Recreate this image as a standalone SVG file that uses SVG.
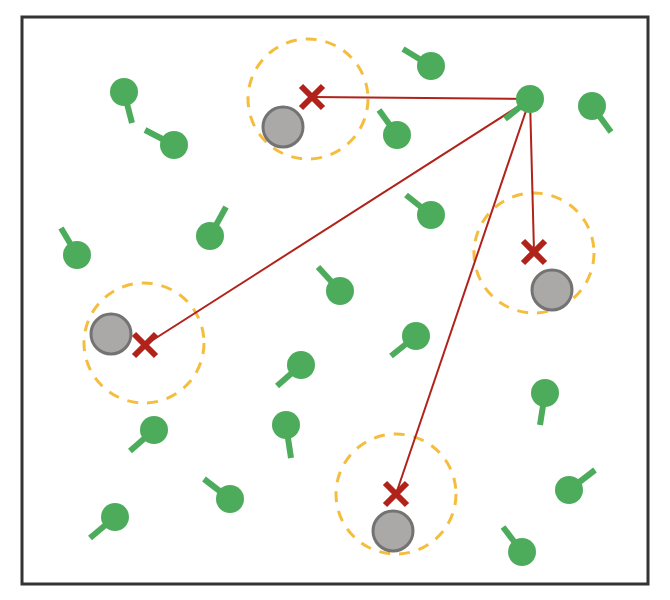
<svg xmlns="http://www.w3.org/2000/svg" width="670" height="600" viewBox="0 0 670 600">
<style>
.frame{fill:#fff;stroke:#333;stroke-width:3}
.range{fill:none;stroke:#f5bd3c;stroke-width:3;stroke-dasharray:11 9}
.obs{fill:#aaa9a8;stroke:#737373;stroke-width:3}
.cross{stroke:#b0221a;stroke-width:6;fill:none}
.link{stroke:#b0221a;stroke-width:2;fill:none}
.tail{stroke:#4dac5c;stroke-width:6}
.dot{fill:#4dac5c}
</style>
<rect class="frame" x="22" y="17" width="626" height="567"/>
<g id="zones">
<circle class="range" cx="308" cy="99" r="60"/>
<circle class="range" cx="534" cy="253" r="60"/>
<circle class="range" cx="144" cy="343" r="60"/>
<circle class="range" cx="396" cy="494" r="60"/>
</g>
<g id="obstacles">
<circle class="obs" cx="283" cy="127" r="20"/>
<circle class="obs" cx="552" cy="290" r="20"/>
<circle class="obs" cx="111" cy="334" r="20"/>
<circle class="obs" cx="393" cy="531" r="20"/>
</g>
<g id="connectors">
<line class="link" x1="530" y1="99" x2="312" y2="97"/>
<line class="link" x1="530" y1="99" x2="534" y2="252"/>
<line class="link" x1="530" y1="99" x2="145" y2="345"/>
<line class="link" x1="530" y1="99" x2="396" y2="494"/>
</g>
<g id="targets">
<path class="cross" d="M301 86L323 108M323 86L301 108"/>
<path class="cross" d="M523 241L545 263M545 241L523 263"/>
<path class="cross" d="M134 334L156 356M156 334L134 356"/>
<path class="cross" d="M385 483L407 505M407 483L385 505"/>
</g>
<g id="agents">
<g id="a1"><line class="tail" x1="124" y1="92" x2="132" y2="123"/><circle class="dot" cx="124" cy="92" r="14"/></g>
<g id="a2"><line class="tail" x1="174" y1="145" x2="145" y2="130"/><circle class="dot" cx="174" cy="145" r="14"/></g>
<g id="a3"><line class="tail" x1="431" y1="66" x2="403" y2="49"/><circle class="dot" cx="431" cy="66" r="14"/></g>
<g id="a4"><line class="tail" x1="397" y1="135" x2="379" y2="110"/><circle class="dot" cx="397" cy="135" r="14"/></g>
<g id="a5"><line class="tail" x1="530" y1="99" x2="505" y2="119"/><circle class="dot" cx="530" cy="99" r="14"/></g>
<g id="a6"><line class="tail" x1="592" y1="106" x2="611" y2="132"/><circle class="dot" cx="592" cy="106" r="14"/></g>
<g id="a7"><line class="tail" x1="77" y1="255" x2="61" y2="228"/><circle class="dot" cx="77" cy="255" r="14"/></g>
<g id="a8"><line class="tail" x1="210" y1="236" x2="226" y2="207"/><circle class="dot" cx="210" cy="236" r="14"/></g>
<g id="a9"><line class="tail" x1="431" y1="215" x2="406" y2="195"/><circle class="dot" cx="431" cy="215" r="14"/></g>
<g id="a10"><line class="tail" x1="340" y1="291" x2="318" y2="267"/><circle class="dot" cx="340" cy="291" r="14"/></g>
<g id="a11"><line class="tail" x1="416" y1="336" x2="391" y2="356"/><circle class="dot" cx="416" cy="336" r="14"/></g>
<g id="a12"><line class="tail" x1="301" y1="365" x2="277" y2="386"/><circle class="dot" cx="301" cy="365" r="14"/></g>
<g id="a13"><line class="tail" x1="545" y1="393" x2="540" y2="425"/><circle class="dot" cx="545" cy="393" r="14"/></g>
<g id="a14"><line class="tail" x1="154" y1="430" x2="130" y2="451"/><circle class="dot" cx="154" cy="430" r="14"/></g>
<g id="a15"><line class="tail" x1="286" y1="425" x2="291" y2="458"/><circle class="dot" cx="286" cy="425" r="14"/></g>
<g id="a16"><line class="tail" x1="230" y1="499" x2="204" y2="479"/><circle class="dot" cx="230" cy="499" r="14"/></g>
<g id="a17"><line class="tail" x1="115" y1="517" x2="90" y2="538"/><circle class="dot" cx="115" cy="517" r="14"/></g>
<g id="a18"><line class="tail" x1="569" y1="490" x2="595" y2="470"/><circle class="dot" cx="569" cy="490" r="14"/></g>
<g id="a19"><line class="tail" x1="522" y1="552" x2="503" y2="527"/><circle class="dot" cx="522" cy="552" r="14"/></g>
</g>
</svg>
